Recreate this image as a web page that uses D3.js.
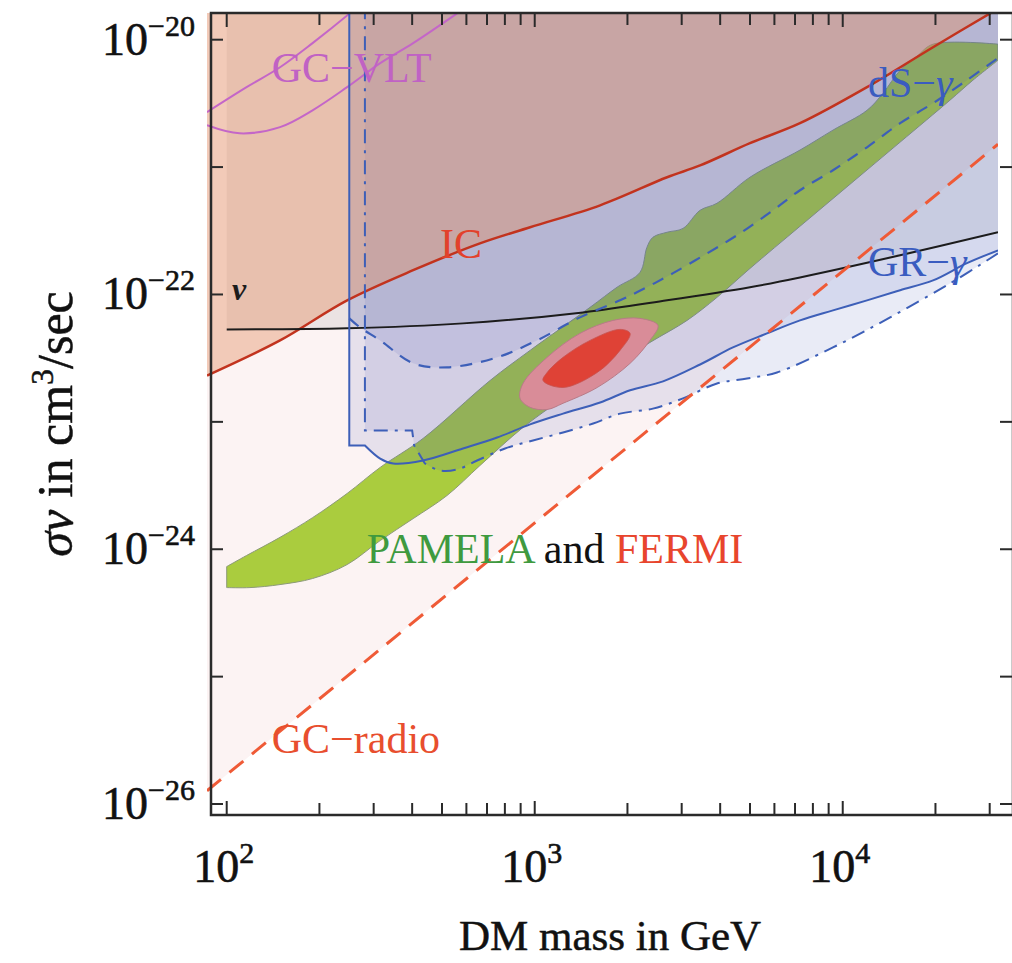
<!DOCTYPE html>
<html>
<head>
<meta charset="utf-8">
<script src="https://cdn.jsdelivr.net/npm/d3@7"></script>
<style>
  body { margin: 0; background: #fff; }
  svg { display: block; }
  text { font-family: "Liberation Serif", "DejaVu Serif", serif; }
</style>
</head>
<body>
<svg id="chart" width="1012" height="963"></svg>
<script>
// ---- axis ranges and ticks ----
const massRange = [86.3, 31920];          // GeV
const sigmaRange = [8.2e-27, 1.62e-20];   // cm^3/s
const massMajorTicks = [100, 1000, 10000];
const massMinorTicks = [200, 300, 400, 500, 600, 700, 800, 900,
                        2000, 3000, 4000, 5000, 6000, 7000, 8000, 9000,
                        20000, 30000];
const sigmaTicks = [1e-26, 1e-25, 1e-24, 1e-23, 1e-22, 1e-21, 1e-20];
const sigmaLabelTicks = [1e-26, 1e-24, 1e-22, 1e-20];

// ---- bounds: [DM mass (GeV), sigma v (cm^3/s)] ----
const gcRadio = [[86.3, 1.27e-26], [1000, 1.61e-24], [31920, 1.51e-21]];

const icBound = [[86.3, 2.31e-23], [149, 4.36e-23], [246, 8.99e-23], [403, 1.55e-22],
  [664, 2.52e-22], [966, 3.37e-22], [1631, 5.01e-22], [2690, 8.32e-22], [3443, 1.03e-21],
  [4998, 1.54e-21], [7265, 2.21e-21], [11990, 4.24e-21], [19640, 8.73e-21], [31920, 1.75e-20]];

const nuBound = [[100, 5.32e-23], [246, 5.42e-23], [585, 5.93e-23], [1435, 7.23e-23],
  [2690, 8.99e-23], [4998, 1.14e-22], [7265, 1.36e-22], [15360, 2.03e-22], [31920, 3.08e-22]];

const vltUpper = [[86.3, 2.70e-21], [116, 4.24e-21], [149, 6.08e-21], [190, 9.40e-21],
  [251, 1.61e-20], [281, 2.04e-20]];
const vltLower = [[86.3, 2.13e-21], [110, 1.84e-21], [149, 2.06e-21], [190, 2.79e-21],
  [246, 4.24e-21], [315, 6.54e-21], [403, 9.40e-21], [560, 1.61e-20], [617, 1.90e-20]];

const grGamma = [[250, 1e-19], [250, 6.53e-24], [281, 6.53e-24], [315, 5.15e-24],
  [347, 4.71e-24], [434, 4.97e-24], [585, 6.18e-24], [755, 7.53e-24], [966, 9.55e-24],
  [1236, 1.16e-23], [1631, 1.42e-23], [2040, 1.77e-23], [2610, 2.08e-23], [3443, 2.82e-23],
  [4401, 3.84e-23], [5676, 4.95e-23], [7265, 6.26e-23], [9296, 7.50e-23], [11990, 8.99e-23],
  [15360, 1.08e-22], [19640, 1.29e-22], [25300, 1.76e-22], [31920, 2.22e-22]];

const gammaDashDot = [[281, 1e-19], [281, 8.56e-24], [400, 8.56e-24], [406, 6.53e-24],
  [440, 4.71e-24], [493, 4.15e-24], [560, 4.23e-24], [650, 4.97e-24], [801, 6.18e-24],
  [987, 7.14e-24], [1236, 8.25e-24], [1548, 9.71e-24], [1892, 1.16e-23], [2419, 1.27e-23],
  [3030, 1.53e-23], [3906, 2.00e-23], [4890, 2.19e-23], [6116, 2.44e-23], [9296, 3.84e-23],
  [14250, 6.61e-23], [22290, 1.22e-22], [31920, 2.10e-22]];

const dsGamma = [[250, 6.49e-23], [271, 5.51e-23], [315, 4.36e-23], [403, 2.88e-23],
  [519, 2.68e-23], [755, 3.21e-23], [1017, 4.36e-23], [1403, 6.61e-23], [1892, 8.99e-23],
  [2313, 1.14e-22], [2813, 1.47e-22], [3626, 2.10e-22], [4641, 3.02e-22], [5937, 4.58e-22],
  [7265, 6.58e-22], [9296, 9.44e-22], [11990, 1.43e-21], [15360, 2.21e-21], [19640, 3.17e-21],
  [25300, 4.81e-21], [31920, 7.16e-21]];

// ---- PAMELA band and FERMI contours ----
const pamelaUpper = [[100, 7.31e-25], [116, 8.93e-25], [149, 1.24e-24], [190, 1.77e-24],
  [246, 2.74e-24], [315, 4.39e-24], [434, 7.41e-24], [716, 2.11e-23], [966, 3.64e-23],
  [1512, 7.92e-23], [1851, 1.14e-22], [2196, 1.49e-22], [2313, 2.34e-22], [2419, 2.81e-22],
  [2690, 3.08e-22], [3030, 3.30e-22], [3443, 4.58e-22], [3906, 5.20e-22], [4998, 8.32e-22],
  [7265, 1.36e-21], [9296, 1.95e-21], [11990, 2.79e-21], [13510, 3.80e-21], [15360, 5.76e-21],
  [17420, 7.42e-21], [19640, 9.22e-21], [31920, 9.22e-21]];
const pamelaLower = [[100, 5.00e-25], [119, 5.00e-25], [149, 5.28e-25], [190, 5.89e-25],
  [246, 7.58e-25], [315, 1.17e-24], [403, 1.74e-24], [519, 2.64e-24], [664, 4.54e-24],
  [916, 9.04e-24], [1236, 1.53e-23], [1631, 2.40e-23], [2366, 4.20e-23], [3124, 6.26e-23],
  [3906, 9.49e-23], [4998, 1.60e-22], [7265, 3.43e-22], [10560, 7.33e-22], [15360, 1.57e-21],
  [22290, 3.35e-21], [26470, 4.81e-21], [31920, 6.90e-21]];

const fermiOuter = [[896, 1.53e-23], [966, 1.30e-23], [1097, 1.25e-23], [1236, 1.40e-23],
  [1595, 1.86e-23], [2040, 2.88e-23], [2366, 4.36e-23], [2512, 5.72e-23], [2196, 6.49e-23],
  [1797, 6.26e-23], [1403, 4.95e-23], [1097, 3.21e-23], [916, 2.00e-23]];
const fermiInner = [[1064, 2.11e-23], [1236, 1.86e-23], [1595, 2.44e-23], [1892, 3.64e-23],
  [2040, 4.95e-23], [1892, 5.32e-23], [1512, 4.36e-23], [1236, 3.21e-23], [1097, 2.44e-23]];

// ---- scales ----
const svg = d3.select("#chart");
const x = d3.scaleLog().domain(massRange).range([207, 998]);
const y = d3.scaleLog().domain(sigmaRange).range([815, 13]);
const SKY = 1e-19;  // above the frame, used to close excluded regions

const frame = { left: 211, right: 1013, top: 13, bottom: 815 };

svg.append("defs").append("clipPath").attr("id", "plot-clip")
  .append("rect").attr("x", x(massRange[0])).attr("y", frame.top)
  .attr("width", x(massRange[1]) - x(massRange[0])).attr("height", frame.bottom - frame.top);

const plot = svg.append("g").attr("clip-path", "url(#plot-clip)");

const smooth = d3.line().x(d => x(d[0])).y(d => y(d[1])).curve(d3.curveCatmullRom.alpha(0.5));
const straight = d3.line().x(d => x(d[0])).y(d => y(d[1]));
const closedSmooth = d3.line().x(d => x(d[0])).y(d => y(d[1])).curve(d3.curveCatmullRomClosed.alpha(0.5));

// path whose first `head` and last `tail` segments are straight, smooth in between
function mixed(pts, head = 0, tail = 0) {
  const n = pts.length;
  let d = "";
  if (head > 0) d += straight(pts.slice(0, head + 1));
  const mid = smooth(pts.slice(head, n - tail));
  d += d ? "L" + mid.slice(1) : mid;
  if (tail > 0) d += "L" + straight(pts.slice(n - tail - 1)).slice(1);
  return d;
}
const skyward = pts => [[pts[0][0], SKY], ...pts, [pts[pts.length - 1][0], SKY]];

// excluded regions below the gamma bounds
plot.append("path").attr("d", straight(skyward(gcRadio)) + "Z").attr("fill", "#fcf3f3");
plot.append("path").attr("d", mixed(skyward(nuBound), 1, 1) + "Z").attr("fill", "rgba(100,100,100,0.11)");

// PAMELA band
const lowerRev = pamelaLower.slice().reverse();
plot.append("path")
  .attr("d", smooth(pamelaUpper) + "L" + smooth(lowerRev).slice(1) + "Z")
  .attr("fill", "#aacc3e").attr("stroke", "#8c9a78").attr("stroke-width", 1);

// gamma-ray excluded regions (translucent, stacked)
const blueFill = "rgba(70,90,180,0.12)";
plot.append("path").attr("d", mixed(grGamma.concat([[31920, SKY]]), 2, 1) + "Z").attr("fill", blueFill);
plot.append("path").attr("d", mixed(gammaDashDot.concat([[31920, SKY]]), 4, 1) + "Z").attr("fill", blueFill);
plot.append("path").attr("d", mixed([[250, SKY]].concat(dsGamma, [[31920, SKY]]), 1, 1) + "Z").attr("fill", blueFill);

// inverse Compton region
plot.append("path").attr("d", mixed(skyward(icBound), 1, 1) + "Z").attr("fill", "rgba(227,141,94,0.4)");

// FERMI contours
plot.append("path").attr("d", closedSmooth(fermiOuter))
  .attr("fill", "#d98c98").attr("stroke", "#b87b88").attr("stroke-width", 1);
plot.append("path").attr("d", closedSmooth(fermiInner))
  .attr("fill", "#df4236").attr("stroke", "#c7524e").attr("stroke-width", 0.8);

// boundary curves
const stroke = (d, color, width, dash) => plot.append("path")
  .attr("d", d).attr("fill", "none").attr("stroke", color)
  .attr("stroke-width", width).attr("stroke-dasharray", dash || null);

stroke(smooth(vltUpper), "#c466c8", 2);
stroke(smooth(vltLower), "#c466c8", 2);
stroke(smooth(icBound), "#c2331e", 2.5);
stroke(smooth(nuBound), "#1c1c1c", 2);
stroke(mixed(grGamma, 2), "#3d5fb8", 2);
stroke(mixed(gammaDashDot, 4), "#3d5fb8", 2, "14,7,3,7");
stroke(smooth(dsGamma), "#3d5fb8", 2.2, "12,9");
stroke(straight(gcRadio), "#ef5a36", 3, "18,11");

// region labels
const label = (txt, m, s, color, size) => svg.append("text")
  .attr("x", x(m)).attr("y", y(s)).attr("fill", color)
  .attr("font-size", size || 42).text(txt);

label("GC\u2212VLT", 140, 4.63e-21, "#c062c4");
label("IC", 493, 1.92e-22, "#e2412b");
label("GC\u2212radio", 140, 2.53e-26, "#e84e2e");

svg.append("text").attr("x", x(104)).attr("y", y(8.99e-23))
  .attr("font-size", 32).attr("font-style", "italic").attr("font-weight", "bold")
  .attr("fill", "#1c1c1c").text("\u03bd");

[["dS", 3.53e-21], ["GR", 1.39e-22]].forEach(([name, s]) => {
  const t = svg.append("text").attr("x", x(12080)).attr("y", y(s))
    .attr("font-size", 42).attr("fill", "#3a5cc0");
  t.append("tspan").text(name + "\u2212");
  t.append("tspan").attr("font-style", "italic").text("\u03b3");
});

const pf = svg.append("text").attr("x", x(285)).attr("y", y(7.73e-25)).attr("font-size", 42);
pf.append("tspan").attr("fill", "#3f9a3f").text("PAMELA");
pf.append("tspan").attr("fill", "#111").text(" and ");
pf.append("tspan").attr("fill", "#e8452d").text("FERMI");

// ---- frame and ticks ----
const axes = svg.append("g").attr("stroke", "#2a2a2a");
axes.append("rect").attr("x", frame.left).attr("y", frame.top)
  .attr("width", frame.right - frame.left).attr("height", frame.bottom - frame.top)
  .attr("fill", "none").attr("stroke-width", 2.5);

const xTick = (m, len) => {
  axes.append("line").attr("x1", x(m)).attr("x2", x(m))
    .attr("y1", frame.bottom).attr("y2", frame.bottom - len).attr("stroke-width", 2);
  axes.append("line").attr("x1", x(m)).attr("x2", x(m))
    .attr("y1", frame.top).attr("y2", frame.top + len).attr("stroke-width", 2);
};
massMajorTicks.forEach(m => xTick(m, 14));
massMinorTicks.forEach(m => xTick(m, 12));

sigmaTicks.forEach(s => {
  axes.append("line").attr("x1", frame.left).attr("x2", frame.left + 12)
    .attr("y1", y(s)).attr("y2", y(s)).attr("stroke-width", 2);
  axes.append("line").attr("x1", frame.right).attr("x2", frame.right - 13)
    .attr("y1", y(s)).attr("y2", y(s)).attr("stroke-width", 2);
});

// tick labels
const ink = "#111";
massMajorTicks.forEach(m => {
  const t = svg.append("text").attr("x", x(m) - 3).attr("y", 882)
    .attr("text-anchor", "middle").attr("font-size", 46).attr("fill", ink)
    .attr("stroke", ink).attr("stroke-width", 0.6);
  t.append("tspan").text("10");
  t.append("tspan").attr("font-size", 30).attr("dy", -19).text(Math.round(Math.log10(m)));
});

sigmaLabelTicks.forEach(s => {
  const t = svg.append("text").attr("x", 195).attr("y", y(s) + 15)
    .attr("text-anchor", "end").attr("font-size", 46).attr("fill", ink)
    .attr("stroke", ink).attr("stroke-width", 0.6);
  t.append("tspan").text("10");
  t.append("tspan").attr("font-size", 30).attr("dy", -19)
    .text("\u2212" + Math.abs(Math.round(Math.log10(s))));
});

// axis titles
svg.append("text").attr("x", 610).attr("y", 950).attr("text-anchor", "middle")
  .attr("font-size", 43).attr("fill", ink).attr("stroke", ink).attr("stroke-width", 0.5)
  .text("DM mass in GeV");

const yt = svg.append("text").attr("transform", "translate(72,424) rotate(-90)")
  .attr("text-anchor", "middle").attr("font-size", 50).attr("fill", ink)
  .attr("stroke", ink).attr("stroke-width", 0.5);
yt.append("tspan").attr("font-style", "italic").text("\u03c3v");
yt.append("tspan").text(" in cm");
yt.append("tspan").attr("font-size", 32).attr("dy", -19).text("3");
yt.append("tspan").attr("dy", 19).text("/sec");
</script>
</body>
</html>
